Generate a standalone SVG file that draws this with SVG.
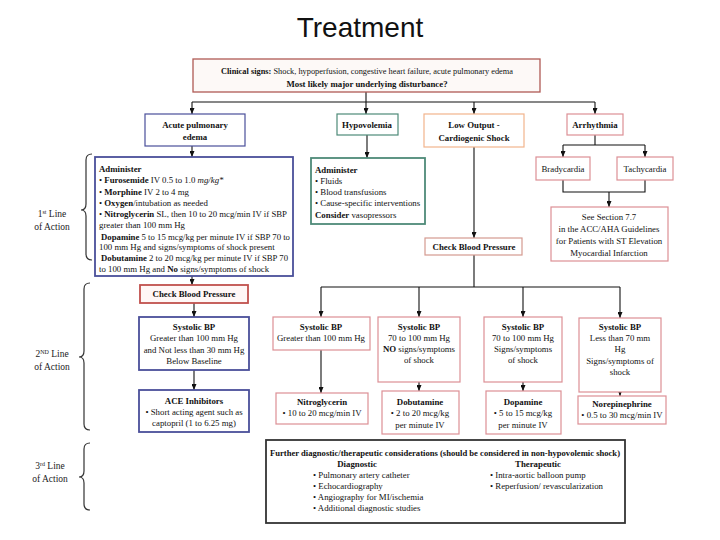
<svg xmlns="http://www.w3.org/2000/svg" width="720" height="540" viewBox="0 0 720 540">
<defs>
<marker id="ah" viewBox="0 0 10 10" refX="10" refY="5" markerWidth="6" markerHeight="5" orient="auto" markerUnits="userSpaceOnUse" preserveAspectRatio="none"><path d="M0,0 L10,5 L0,10 z" fill="#111"/></marker>
</defs>
<style>
.t{font-family:"Liberation Serif","Times New Roman",serif;font-size:8.8px;fill:#111}
.b{font-weight:bold}
.c{text-anchor:middle}
.lbl{font-family:"Liberation Serif","Times New Roman",serif;font-size:9.5px;fill:#222;text-anchor:middle}
.box{fill:#fff;stroke-width:1.2}
.thick{stroke-width:1.8}
.blue{stroke:#4a4f9a}
.green{stroke:#4e8a78}
.orange{stroke:#f2b48c}
.pink{stroke:#dc8f95}
.red{stroke:#b8585a}
.dark{stroke:#333}
.conn{fill:none;stroke:#111;stroke-width:1.1}
.brace{fill:none;stroke:#333;stroke-width:1.2}
</style>
<rect width="720" height="540" fill="#fff"/>
<text x="360" y="37" text-anchor="middle" font-family="Liberation Sans, Arial, sans-serif" font-size="28" fill="#111">Treatment</text>

<g id="connectors">
<path class="conn" d="M366,92 V102 M192,102 H595"/>
<path class="conn" marker-end="url(#ah)" d="M192,102 V114"/>
<path class="conn" marker-end="url(#ah)" d="M366,102 V114"/>
<path class="conn" marker-end="url(#ah)" d="M474,102 V114"/>
<path class="conn" marker-end="url(#ah)" d="M595,102 V114"/>
<path class="conn" marker-end="url(#ah)" d="M192,146 V157"/>
<path class="conn" marker-end="url(#ah)" d="M192,276 V285"/>
<path class="conn" marker-end="url(#ah)" d="M194,303 V317"/>
<path class="conn" marker-end="url(#ah)" d="M194,370 V390"/>
<path class="conn" marker-end="url(#ah)" d="M367,135 V158"/>
<path class="conn" marker-end="url(#ah)" d="M474,147 V238"/>
<path class="conn" d="M595,135 V145 M563,145 H645"/>
<path class="conn" marker-end="url(#ah)" d="M563,145 V157"/>
<path class="conn" marker-end="url(#ah)" d="M645,145 V157"/>
<path class="conn" d="M563,180 V192 H645 V180"/>
<path class="conn" marker-end="url(#ah)" d="M609,192 V207"/>
<path class="conn" d="M474,255 V287 M321,287 H620"/>
<path class="conn" marker-end="url(#ah)" d="M321,287 V317"/>
<path class="conn" marker-end="url(#ah)" d="M419,287 V317"/>
<path class="conn" marker-end="url(#ah)" d="M523,287 V317"/>
<path class="conn" marker-end="url(#ah)" d="M620,287 V318"/>
<path class="conn" marker-end="url(#ah)" d="M321,350 V393"/>
<path class="conn" marker-end="url(#ah)" d="M419,382 V391"/>
<path class="conn" marker-end="url(#ah)" d="M523,382 V391"/>
<path class="conn" marker-end="url(#ah)" d="M620,392 V396"/>
</g>

<g id="brace1">
<path class="brace" d="M92,154 Q86,154 86,160 V204 Q86,210 81,210 Q86,210 86,216 V254 Q86,260 92,260"/>
<text class="lbl" y="217"><tspan x="52">1</tspan><tspan font-size="6" dy="-3">st</tspan><tspan dy="3"> Line</tspan></text>
<text class="lbl" x="52" y="230">of Action</text>
</g>
<g id="brace2">
<path class="brace" d="M90,283 Q84,283 84,289 V351 Q84,357 79,357 Q84,357 84,363 V424 Q84,430 90,430"/>
<text class="lbl" y="357"><tspan x="52">2</tspan><tspan font-size="6" dy="-3">ND</tspan><tspan dy="3"> Line</tspan></text>
<text class="lbl" x="52" y="370">of Action</text>
</g>
<g id="brace3">
<path class="brace" d="M90,443 Q84,443 84,449 V471 Q84,477 79,477 Q84,477 84,483 V504 Q84,510 90,510"/>
<text class="lbl" y="469"><tspan x="50">3</tspan><tspan font-size="6" dy="-3">rd</tspan><tspan dy="3"> Line</tspan></text>
<text class="lbl" x="50" y="482">of Action</text>
</g>

<g id="clinical">
<rect x="193" y="59" width="347" height="33" fill="#fdf9f7" stroke="#b05a55" stroke-width="1.3"/>
<text class="t c" x="367" y="74" textLength="292" lengthAdjust="spacingAndGlyphs"><tspan class="b">Clinical signs:</tspan> Shock, hypoperfusion, congestive heart failure, acute pulmonary edema</text>
<text class="t c b" x="367" y="87">Most likely major underlying disturbance?</text>
</g>

<g id="acute">
<rect class="box blue" x="145" y="114" width="100" height="32"/>
<text class="t c b" x="195" y="128">Acute pulmonary</text>
<text class="t c b" x="195" y="140">edema</text>
</g>
<g id="hypovolemia">
<rect class="box green" x="337" y="114" width="61" height="21"/>
<text class="t c b" x="367" y="128">Hypovolemia</text>
</g>
<g id="lowoutput">
<rect class="box orange" x="424" y="114" width="100" height="33"/>
<text class="t c b" x="474" y="128">Low Output -</text>
<text class="t c b" x="474" y="141">Cardiogenic Shock</text>
</g>
<g id="arrhythmia">
<rect class="box pink" x="567" y="114" width="56" height="21"/>
<text class="t c b" x="595" y="128">Arrhythmia</text>
</g>
<g id="brady">
<rect class="box pink" x="536" y="157" width="54" height="23"/>
<text class="t c" x="563" y="172">Bradycardia</text>
</g>
<g id="tachy">
<rect class="box pink" x="617" y="157" width="56" height="23"/>
<text class="t c" x="645" y="172">Tachycardia</text>
</g>
<g id="section">
<rect class="box pink" x="551" y="207" width="117" height="54"/>
<text class="t c" x="609" y="220">See Section 7.7</text>
<text class="t c" x="609" y="232">in the ACC/AHA Guidelines</text>
<text class="t c" x="609" y="244">for Patients with ST Elevation</text>
<text class="t c" x="609" y="256">Myocardial Infarction</text>
</g>

<g id="administer1">
<rect class="box blue thick" x="95" y="157" width="198" height="119"/>
<text class="t b" x="99" y="172">Administer</text>
<text class="t" x="99" y="183">• <tspan class="b">Furosemide</tspan> IV 0.5 to 1.0 <tspan font-style="italic">mg/kg*</tspan></text>
<text class="t" x="99" y="195">• <tspan class="b">Morphine</tspan> IV 2 to 4 mg</text>
<text class="t" x="99" y="206">• <tspan class="b">Oxygen</tspan>/intubation as needed</text>
<text class="t" x="99" y="217" textLength="188" lengthAdjust="spacingAndGlyphs">• <tspan class="b">Nitroglycerin</tspan> SL, then 10 to 20 mcg/min IV if SBP</text>
<text class="t" x="99" y="228">greater than 100 mm Hg</text>
<text class="t" x="101" y="240" textLength="189" lengthAdjust="spacingAndGlyphs"><tspan class="b">Dopamine</tspan> 5 to 15 mcg/kg per minute IV if SBP 70 to</text>
<text class="t" x="99" y="250">100 mm Hg and signs/symptoms of shock present</text>
<text class="t" x="101" y="261" textLength="187" lengthAdjust="spacingAndGlyphs"><tspan class="b">Dobutamine</tspan> 2 to 20 mcg/kg per minute IV if SBP 70</text>
<text class="t" x="99" y="272">to 100 mm Hg and <tspan class="b">No</tspan> signs/symptoms of shock</text>
</g>

<g id="administer2">
<rect class="box green thick" x="311" y="158" width="114" height="66"/>
<text class="t b" x="315" y="173">Administer</text>
<text class="t" x="315" y="184">• Fluids</text>
<text class="t" x="315" y="195">• Blood transfusions</text>
<text class="t" x="315" y="206">• Cause-specific interventions</text>
<text class="t" x="315" y="218"><tspan class="b">Consider</tspan> vasopressors</text>
</g>

<g id="checkbp2">
<rect class="box" x="425" y="238" width="97" height="17" stroke="#d49a90"/>
<text class="t c b" x="474" y="250">Check Blood Pressure</text>
</g>

<g id="checkbp1">
<rect x="140" y="285" width="108" height="18" fill="#fff7f6" stroke="#c0504d" stroke-width="1.8"/>
<text class="t c b" x="194" y="297">Check Blood Pressure</text>
</g>

<g id="sbp0">
<rect class="box blue thick" x="139" y="317" width="110" height="53"/>
<text class="t c b" x="194" y="330">Systolic BP</text>
<text class="t c" x="194" y="341">Greater than 100 mm Hg</text>
<text class="t c" x="194" y="353">and Not less than 30 mm Hg</text>
<text class="t c" x="194" y="364">Below Baseline</text>
</g>
<g id="ace">
<rect class="box blue thick" x="139" y="390" width="110" height="42"/>
<text class="t c b" x="194" y="404">ACE Inhibitors</text>
<text class="t c" x="194" y="415">• Short acting agent such as</text>
<text class="t c" x="194" y="426">captopril (1 to 6.25 mg)</text>
</g>

<g id="sbp1">
<rect class="box pink" x="273" y="317" width="97" height="33"/>
<text class="t c b" x="321" y="330">Systolic BP</text>
<text class="t c" x="321" y="341">Greater than 100 mm Hg</text>
</g>
<g id="sbp2">
<rect class="box pink" x="378" y="317" width="82" height="65"/>
<text class="t c b" x="419" y="330">Systolic BP</text>
<text class="t c" x="419" y="341">70 to 100 mm Hg</text>
<text class="t c" x="419" y="352"><tspan class="b">NO</tspan> signs/symptoms</text>
<text class="t c" x="419" y="363">of shock</text>
</g>
<g id="sbp3">
<rect class="box pink" x="484" y="317" width="78" height="65"/>
<text class="t c b" x="523" y="330">Systolic BP</text>
<text class="t c" x="523" y="341">70 to 100 mm Hg</text>
<text class="t c" x="523" y="352">Signs/symptoms</text>
<text class="t c" x="523" y="363">of shock</text>
</g>
<g id="sbp4">
<rect class="box pink" x="579" y="318" width="82" height="74"/>
<text class="t c b" x="620" y="330">Systolic BP</text>
<text class="t c" x="620" y="341">Less than 70 mm</text>
<text class="t c" x="620" y="352">Hg</text>
<text class="t c" x="620" y="364">Signs/symptoms of</text>
<text class="t c" x="620" y="375">shock</text>
</g>

<g id="nitro">
<rect class="box pink" x="276" y="393" width="92" height="31"/>
<text class="t c b" x="322" y="405">Nitroglycerin</text>
<text class="t c" x="322" y="416">• 10 to 20 mcg/min IV</text>
</g>
<g id="dobutamine">
<rect class="box pink" x="382" y="391" width="77" height="43"/>
<text class="t c b" x="420" y="405">Dobutamine</text>
<text class="t c" x="420" y="416">• 2 to 20 mcg/kg</text>
<text class="t c" x="420" y="428">per minute IV</text>
</g>
<g id="dopamine">
<rect class="box pink" x="486" y="391" width="75" height="43"/>
<text class="t c b" x="523" y="405">Dopamine</text>
<text class="t c" x="523" y="416">• 5 to 15 mcg/kg</text>
<text class="t c" x="523" y="428">per minute IV</text>
</g>
<g id="norepinephrine">
<rect class="box pink" x="578" y="396" width="88" height="28"/>
<text class="t c b" x="622" y="407">Norepinephrine</text>
<text class="t c" x="622" y="418">• 0.5 to 30 mcg/min IV</text>
</g>

<g id="further">
<rect class="box dark thick" x="266" y="440" width="359" height="83"/>
<text class="t c b" x="445" y="456" textLength="350" lengthAdjust="spacingAndGlyphs">Further diagnostic/therapeutic considerations (should be considered in non-hypovolemic shock)</text>
<text class="t c b" x="357" y="467">Diagnostic</text>
<text class="t c b" x="538" y="467">Therapeutic</text>
<text class="t" x="313" y="478">• Pulmonary artery catheter</text>
<text class="t" x="313" y="489">• Echocardiography</text>
<text class="t" x="313" y="500">• Angiography for MI/ischemia</text>
<text class="t" x="313" y="511">• Additional diagnostic studies</text>
<text class="t" x="490" y="478">• Intra-aortic balloon pump</text>
<text class="t" x="490" y="489">• Reperfusion/ revascularization</text>
</g>
</svg>
